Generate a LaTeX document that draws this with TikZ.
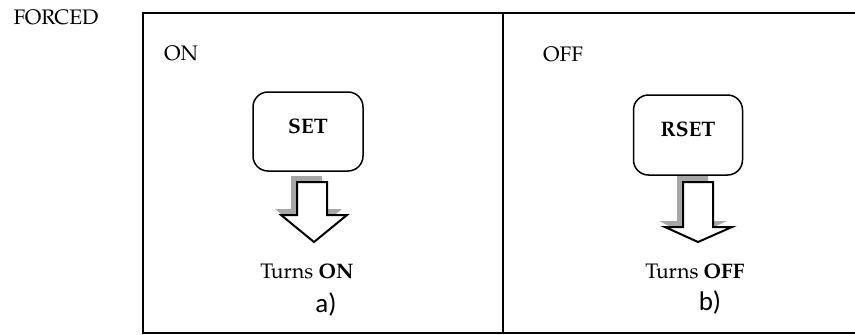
\documentclass[tikz,border=0pt]{standalone}
\usepackage{fontspec}
\setmainfont{TeX Gyre Pagella}
\newfontfamily\labfont{Carlito}
\begin{document}
\begin{tikzpicture}[x=1pt,y=-1pt,
  frame/.style={line width=2pt},
  statebox/.style={draw,line width=1.5pt,rounded corners=15pt,minimum width=110pt,minimum height=79pt,inner sep=0pt},
  txt/.style={inner sep=0pt,font=\fontsize{21}{25}\selectfont},
  boldtxt/.style={inner sep=0pt,font=\fontsize{21}{25}\selectfont\bfseries},
  lab/.style={inner sep=0pt,font=\fontsize{27}{31}\selectfont\labfont},
  blockarrow/.style={draw,fill=white,line width=2pt,line join=miter},
  shadowarrow/.style={fill=black!35,draw=none}]
\useasboundingbox (0,0) rectangle (855,335);
% frame
\draw[frame] (857,13) -- (143,13) -- (143,333) -- (857,333);
\draw[frame] (503,13) -- (503,333);
% texts
\node[txt] (forced) at (56,17) {FORCED};
\node[txt] (on) at (181,53) {ON};
\node[txt] (off) at (563,54) {OFF};
% boxes
\node[statebox] (set) at (308,131.5) {};
\node[boldtxt] (settxt) at (308,126) {SET};
\node[statebox,minimum width=109pt,minimum height=80pt] (rset) at (688,135) {};
\node[boldtxt] (rsettxt) at (688,129) {RSET};
% arrow a
\fill[shadowarrow] (291,176) -- (322,176) -- (322,209) -- (342,209) -- (308,237) -- (275,209) -- (291,209) -- cycle;
\draw[blockarrow] (297,182) -- (327,182) -- (327,215) -- (347,215) -- (314,242) -- (281,215) -- (297,215) -- cycle;
% arrow b
\fill[shadowarrow] (677,176) -- (708,176) -- (708,221) -- (727,221) -- (692,237) -- (659,221) -- (677,221) -- cycle;
\draw[blockarrow] (683,182) -- (713,182) -- (713,227) -- (732,227) -- (698,242) -- (665,227) -- (683,227) -- cycle;
% captions
\node[txt] (turnson) at (307,271) {Turns \textbf{ON}};
\node[txt] (turnsoff) at (695,271) {Turns \textbf{OFF}};
\node[lab] (a) at (326,304) {a)};
\node[lab] (b) at (710,302) {b)};
\end{tikzpicture}
\end{document}
